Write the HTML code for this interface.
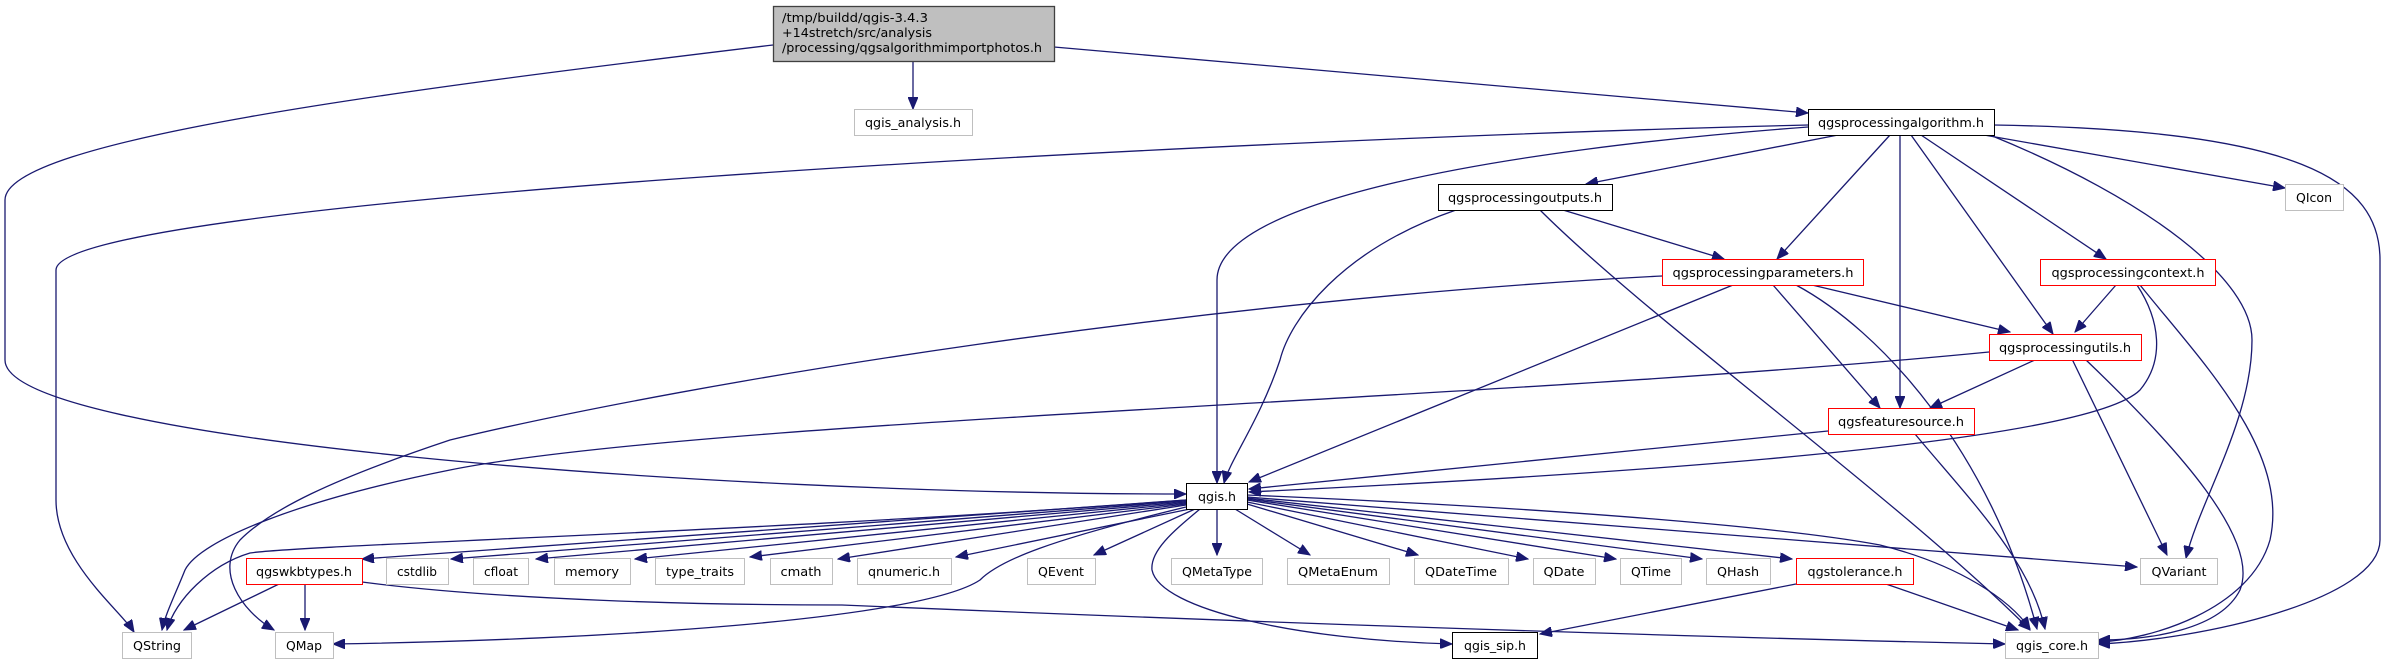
<!DOCTYPE html>
<html><head><meta charset="utf-8"><style>html,body{margin:0;padding:0;background:#fff}svg{display:block}</style></head>
<body>
<svg xmlns="http://www.w3.org/2000/svg" width="2388" height="664" viewBox="0 0 2388 664" font-family="'DejaVu Sans', 'Liberation Sans', sans-serif" font-size="12">
<defs>
<marker id="a" markerUnits="userSpaceOnUse" markerWidth="13" markerHeight="10" refX="12" refY="5" orient="auto">
<path d="M0,0 L12,5 L0,10 z" fill="#191970" stroke="#191970"/>
</marker>
</defs>
<g fill="none" stroke="#191970" stroke-width="1.3" marker-end="url(#a)">
<path d="M913,61 L913,109"/>
<path d="M1054,47 L1808,113"/>
<path d="M773,45 C400,90 5,140 5,200 L5,360 C5,440 700,494 1186,494"/>
<path d="M1808,125 C1200,140 56,200 56,270 L56,500 C56,560 120,610 134,632"/>
<path d="M1808,127 C1500,150 1217,200 1217,280 L1217,483"/>
<path d="M1838,135 L1586,184"/>
<path d="M1890,135 L1777,259"/>
<path d="M1900,135 L1900,408"/>
<path d="M1911,135 L2053,334"/>
<path d="M1921,135 L2106,259"/>
<path d="M1984,135 L2285,188"/>
<path d="M1990,135 C2150,200 2252,280 2252,340 C2252,420 2200,500 2186,558"/>
<path d="M1994,125 C2300,130 2380,180 2380,260 L2380,540 C2380,600 2200,640 2098,644"/>
<path d="M1456,210 C1340,250 1290,320 1280,360 C1260,420 1230,460 1224,483"/>
<path d="M1540,210 C1650,320 1900,500 2030,630"/>
<path d="M1563,210 L1724,259"/>
<path d="M1733,285 L1249,482"/>
<path d="M1773,285 L1880,408"/>
<path d="M1796,285 C1880,330 1990,450 2037,629"/>
<path d="M1812,285 L2010,332"/>
<path d="M1662,276 C1200,300 700,380 450,440 C330,480 270,510 240,540 C215,570 240,610 274,630"/>
<path d="M2116,285 L2075,332"/>
<path d="M2137,285 C2160,320 2165,360 2140,390 C2080,450 1500,480 1249,492"/>
<path d="M2140,285 C2200,360 2290,450 2270,540 C2250,610 2150,640 2098,642"/>
<path d="M1989,352 C1500,400 700,420 450,470 C300,500 200,540 185,570 C175,595 165,615 162,630"/>
<path d="M2037,359 L1930,408"/>
<path d="M2072,359 L2167,555"/>
<path d="M2085,359 C2180,450 2260,540 2240,590 C2220,630 2150,640 2098,640"/>
<path d="M1828,431 L1249,489"/>
<path d="M1915,434 C1970,500 2030,560 2045,629"/>
<path d="M1186,500 L362,559"/>
<path d="M1186,501 L451,559"/>
<path d="M1186,502 L536,559"/>
<path d="M1186,503 L635,559"/>
<path d="M1186,504 L750,557"/>
<path d="M1186,505 L838,559"/>
<path d="M1190,509 L956,557"/>
<path d="M1195,509 L1094,555"/>
<path d="M1217,509 L1217,555"/>
<path d="M1235,509 L1310,555"/>
<path d="M1247,504 L1418,555"/>
<path d="M1247,502 L1528,559"/>
<path d="M1247,500 L1616,559"/>
<path d="M1247,499 L1702,559"/>
<path d="M1247,498 L1792,559"/>
<path d="M1247,497 L2137,567"/>
<path d="M1247,495 C1600,510 1800,530 1880,545 C1960,565 2010,600 2030,629"/>
<path d="M1200,509 C1175,530 1150,550 1152,570 C1160,610 1300,640 1452,644"/>
<path d="M1186,500 C800,530 300,545 250,553 C210,565 175,600 167,630"/>
<path d="M1186,507 C1050,540 1000,560 980,580 C920,620 600,640 333,644"/>
<path d="M279,584 L184,630"/>
<path d="M305,584 L305,630"/>
<path d="M362,582 C500,600 700,605 842,605 C1200,620 1600,635 2005,644"/>
<path d="M1796,584 L1540,634"/>
<path d="M1886,584 L2018,630"/>
</g>
<g stroke-width="1.3">
<rect x="773.5" y="6.5" width="281" height="55" fill="#bfbfbf" stroke="#404040"/>
<text x="782" y="22" textLength="146" lengthAdjust="spacingAndGlyphs">/tmp/buildd/qgis-3.4.3</text>
<text x="782" y="37" textLength="150" lengthAdjust="spacingAndGlyphs">+14stretch/src/analysis</text>
<text x="782" y="52" textLength="260" lengthAdjust="spacingAndGlyphs">/processing/qgsalgorithmimportphotos.h</text>
</g>
<g text-anchor="middle">
<rect x="854.5" y="109.5" width="118" height="26" fill="#fff" stroke="#bfbfbf"/><text x="913" y="127" textLength="96" lengthAdjust="spacingAndGlyphs">qgis_analysis.h</text>
<rect x="1808.5" y="109.5" width="186" height="26" fill="#fff" stroke="#000"/><text x="1901" y="127" textLength="166" lengthAdjust="spacingAndGlyphs">qgsprocessingalgorithm.h</text>
<rect x="1438.5" y="184.5" width="174" height="26" fill="#fff" stroke="#000"/><text x="1525" y="202" textLength="154" lengthAdjust="spacingAndGlyphs">qgsprocessingoutputs.h</text>
<rect x="2285.5" y="184.5" width="58" height="26" fill="#fff" stroke="#bfbfbf"/><text x="2314" y="202" textLength="36" lengthAdjust="spacingAndGlyphs">QIcon</text>
<rect x="1662.5" y="259.5" width="201" height="26" fill="#fff" stroke="#ff0000"/><text x="1763" y="277" textLength="181" lengthAdjust="spacingAndGlyphs">qgsprocessingparameters.h</text>
<rect x="2040.5" y="259.5" width="175" height="26" fill="#fff" stroke="#ff0000"/><text x="2128" y="277" textLength="153" lengthAdjust="spacingAndGlyphs">qgsprocessingcontext.h</text>
<rect x="1989.5" y="334.5" width="152" height="26" fill="#fff" stroke="#ff0000"/><text x="2065" y="352" textLength="132" lengthAdjust="spacingAndGlyphs">qgsprocessingutils.h</text>
<rect x="1828.5" y="408.5" width="146" height="26" fill="#fff" stroke="#ff0000"/><text x="1901" y="426" textLength="126" lengthAdjust="spacingAndGlyphs">qgsfeaturesource.h</text>
<rect x="1186.5" y="483.5" width="61" height="26" fill="#fff" stroke="#000"/><text x="1217" y="501" textLength="38" lengthAdjust="spacingAndGlyphs">qgis.h</text>
<rect x="246.5" y="558.5" width="116" height="26" fill="#fff" stroke="#ff0000"/><text x="304" y="576" textLength="96" lengthAdjust="spacingAndGlyphs">qgswkbtypes.h</text>
<rect x="386.5" y="558.5" width="62" height="26" fill="#fff" stroke="#bfbfbf"/><text x="417" y="576" textLength="40" lengthAdjust="spacingAndGlyphs">cstdlib</text>
<rect x="473.5" y="558.5" width="55" height="26" fill="#fff" stroke="#bfbfbf"/><text x="501" y="576" textLength="34" lengthAdjust="spacingAndGlyphs">cfloat</text>
<rect x="554.5" y="558.5" width="76" height="26" fill="#fff" stroke="#bfbfbf"/><text x="592" y="576" textLength="54" lengthAdjust="spacingAndGlyphs">memory</text>
<rect x="655.5" y="558.5" width="89" height="26" fill="#fff" stroke="#bfbfbf"/><text x="700" y="576" textLength="68" lengthAdjust="spacingAndGlyphs">type_traits</text>
<rect x="770.5" y="558.5" width="62" height="26" fill="#fff" stroke="#bfbfbf"/><text x="801" y="576" textLength="41" lengthAdjust="spacingAndGlyphs">cmath</text>
<rect x="857.5" y="558.5" width="94" height="26" fill="#fff" stroke="#bfbfbf"/><text x="904" y="576" textLength="72" lengthAdjust="spacingAndGlyphs">qnumeric.h</text>
<rect x="1027.5" y="558.5" width="68" height="26" fill="#fff" stroke="#bfbfbf"/><text x="1061" y="576" textLength="46" lengthAdjust="spacingAndGlyphs">QEvent</text>
<rect x="1171.5" y="558.5" width="91" height="26" fill="#fff" stroke="#bfbfbf"/><text x="1217" y="576" textLength="70" lengthAdjust="spacingAndGlyphs">QMetaType</text>
<rect x="1287.5" y="558.5" width="102" height="26" fill="#fff" stroke="#bfbfbf"/><text x="1338" y="576" textLength="80" lengthAdjust="spacingAndGlyphs">QMetaEnum</text>
<rect x="1414.5" y="558.5" width="94" height="26" fill="#fff" stroke="#bfbfbf"/><text x="1461" y="576" textLength="72" lengthAdjust="spacingAndGlyphs">QDateTime</text>
<rect x="1533.5" y="558.5" width="62" height="26" fill="#fff" stroke="#bfbfbf"/><text x="1564" y="576" textLength="41" lengthAdjust="spacingAndGlyphs">QDate</text>
<rect x="1620.5" y="558.5" width="61" height="26" fill="#fff" stroke="#bfbfbf"/><text x="1651" y="576" textLength="40" lengthAdjust="spacingAndGlyphs">QTime</text>
<rect x="1706.5" y="558.5" width="64" height="26" fill="#fff" stroke="#bfbfbf"/><text x="1738" y="576" textLength="42" lengthAdjust="spacingAndGlyphs">QHash</text>
<rect x="1796.5" y="558.5" width="117" height="26" fill="#fff" stroke="#ff0000"/><text x="1855" y="576" textLength="95" lengthAdjust="spacingAndGlyphs">qgstolerance.h</text>
<rect x="2140.5" y="558.5" width="77" height="26" fill="#fff" stroke="#bfbfbf"/><text x="2179" y="576" textLength="55" lengthAdjust="spacingAndGlyphs">QVariant</text>
<rect x="122.5" y="632.5" width="69" height="26" fill="#fff" stroke="#bfbfbf"/><text x="157" y="650" textLength="48" lengthAdjust="spacingAndGlyphs">QString</text>
<rect x="275.5" y="632.5" width="58" height="26" fill="#fff" stroke="#bfbfbf"/><text x="304" y="650" textLength="36" lengthAdjust="spacingAndGlyphs">QMap</text>
<rect x="1452.5" y="632.5" width="85" height="26" fill="#fff" stroke="#000"/><text x="1495" y="650" textLength="62" lengthAdjust="spacingAndGlyphs">qgis_sip.h</text>
<rect x="2005.5" y="632.5" width="93" height="26" fill="#fff" stroke="#bfbfbf"/><text x="2052" y="650" textLength="72" lengthAdjust="spacingAndGlyphs">qgis_core.h</text>
</g>
</svg>
</body></html>
